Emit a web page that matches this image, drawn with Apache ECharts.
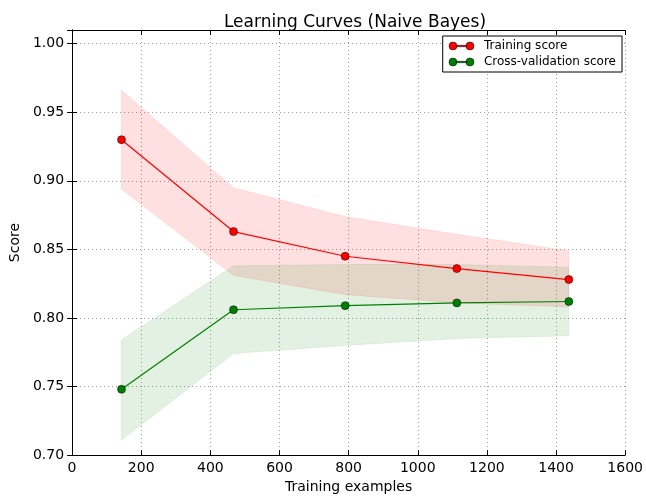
<!DOCTYPE html>
<html>
<head>
<meta charset="utf-8">
<script src="https://cdn.jsdelivr.net/npm/echarts@6/dist/echarts.min.js"></script>
<style>
html,body{margin:0;padding:0;background:#fff;}
#c{width:646px;height:499px;}
</style>
</head>
<body>
<div id="c"></div>
<script>
var trainSizes = [143, 467, 790, 1113, 1437];
var trainMean  = [0.930, 0.863, 0.845, 0.836, 0.828];
var trainLow   = [0.894, 0.831, 0.817, 0.811, 0.808];
var trainHigh  = [0.966, 0.895, 0.874, 0.861, 0.849];
var testMean   = [0.748, 0.806, 0.809, 0.811, 0.812];
var testLow    = [0.711, 0.774, 0.780, 0.785, 0.787];
var testHigh   = [0.784, 0.838, 0.839, 0.839, 0.837];
var seriesNames = ['Training score', 'Cross-validation score'];
var titleText = 'Learning Curves (Naive Bayes)';
var xName = 'Training examples';
var yName = 'Score';

var FONT = 'DejaVu Sans';
function zip(a, b) { return a.map(function (v, i) { return [v, b[i]]; }); }
function band(a, lo, hi) { return a.map(function (v, i) { return [v, lo[i], hi[i]]; }); }

function bandRender(fill, stroke) {
  return function (params, api) {
    if (params.dataIndexInside !== 0) return;
    var n = params.dataInsideLength;
    var top = [], bot = [];
    for (var i = 0; i < n; i++) {
      var x = api.value(0, i);
      top.push(api.coord([x, api.value(2, i)]));
      bot.push(api.coord([x, api.value(1, i)]));
    }
    var pts = top.concat(bot.reverse());
    return {
      type: 'polygon',
      shape: { points: pts },
      style: { fill: fill, stroke: stroke, lineWidth: 1 }
    };
  };
}

var legendIcon = 'path://M0,4A4,4,0,1,1,8,4A4,4,0,1,1,0,4ZM17,4A4,4,0,1,1,25,4A4,4,0,1,1,17,4ZM7,3.3L18,3.3L18,4.7L7,4.7Z';

var axisCommon = {
  axisLine: { show: true, lineStyle: { color: '#000', width: 1 } },
  axisTick: { show: true, inside: true, length: 5, lineStyle: { color: '#000' } },
  axisLabel: { color: '#000', fontFamily: FONT, fontSize: 14 },
  splitLine: { show: false }
};
var gridLine = { show: true, lineStyle: { color: '#555', width: 0.6, type: [1, 3] } };

var chart = echarts.init(document.getElementById('c'), null, { renderer: 'canvas' });
chart.setOption({
  animation: false,
  backgroundColor: '#fff',
  title: {
    text: titleText, left: 350, top: 9, textAlign: 'center',
    textStyle: { fontFamily: FONT, fontSize: 17, fontWeight: 'normal', color: '#000' }
  },
  grid: { left: 72, right: 18, top: 30, bottom: 38 },
  legend: {
    orient: 'vertical', right: 24, top: 36,
    backgroundColor: '#fff', borderColor: '#000', borderWidth: 1, borderRadius: 0,
    padding: [4, 6, 4, 6], itemGap: 4, itemWidth: 25, itemHeight: 8,
    textStyle: { fontFamily: FONT, fontSize: 12, color: '#000', padding: [0, 0, 0, 5] },
    data: [
      { name: seriesNames[0], icon: legendIcon, itemStyle: { color: '#ff0000', borderColor: '#000', borderWidth: 0.5 } },
      { name: seriesNames[1], icon: legendIcon, itemStyle: { color: '#008000', borderColor: '#000', borderWidth: 0.5 } }
    ]
  },
  xAxis: [
    Object.assign({}, axisCommon, {
      type: 'value', min: 0, max: 1600, interval: 200,
      name: xName, nameLocation: 'middle', nameGap: 21,
      nameTextStyle: { fontFamily: FONT, fontSize: 14, color: '#000' },
      axisLabel: { color: '#000', fontFamily: FONT, fontSize: 14, margin: 6,
        formatter: function (v) { return String(v); } },
      splitLine: gridLine
    }),
    Object.assign({}, axisCommon, {
      type: 'value', min: 0, max: 1600, interval: 200, position: 'top',
      axisLabel: { show: false }
    })
  ],
  yAxis: [
    Object.assign({}, axisCommon, {
      type: 'value', min: 0.70, max: 1.01, interval: 0.05,
      name: yName, nameLocation: 'middle', nameGap: 44,
      nameTextStyle: { fontFamily: FONT, fontSize: 14, color: '#000' },
      axisLabel: {
        color: '#000', fontFamily: FONT, fontSize: 14, margin: 8, showMaxLabel: false,
        formatter: function (v) { return v.toFixed(2); }
      },
      splitLine: gridLine
    }),
    Object.assign({}, axisCommon, {
      type: 'value', min: 0.70, max: 1.01, interval: 0.05, position: 'right',
      axisLabel: { show: false }
    })
  ],
  series: [
    {
      type: 'custom', name: 'trainBand', silent: true, z: 1,
      renderItem: bandRender('rgba(255,0,0,0.12)', 'rgba(255,0,0,0.08)'),
      encode: { x: 0, y: [1, 2] },
      data: band(trainSizes, trainLow, trainHigh)
    },
    {
      type: 'custom', name: 'testBand', silent: true, z: 1,
      renderItem: bandRender('rgba(0,128,0,0.11)', 'rgba(0,128,0,0.08)'),
      encode: { x: 0, y: [1, 2] },
      data: band(trainSizes, testLow, testHigh)
    },
    {
      type: 'line', name: seriesNames[0], z: 3,
      data: zip(trainSizes, trainMean),
      symbol: 'circle', symbolSize: 8,
      lineStyle: { color: '#ff0000', width: 1.2 },
      itemStyle: { color: '#ff0000', borderColor: '#000', borderWidth: 0.5 }
    },
    {
      type: 'line', name: seriesNames[1], z: 3,
      data: zip(trainSizes, testMean),
      symbol: 'circle', symbolSize: 8,
      lineStyle: { color: '#008000', width: 1.2 },
      itemStyle: { color: '#008000', borderColor: '#000', borderWidth: 0.5 }
    }
  ]
});
</script>
</body>
</html>
